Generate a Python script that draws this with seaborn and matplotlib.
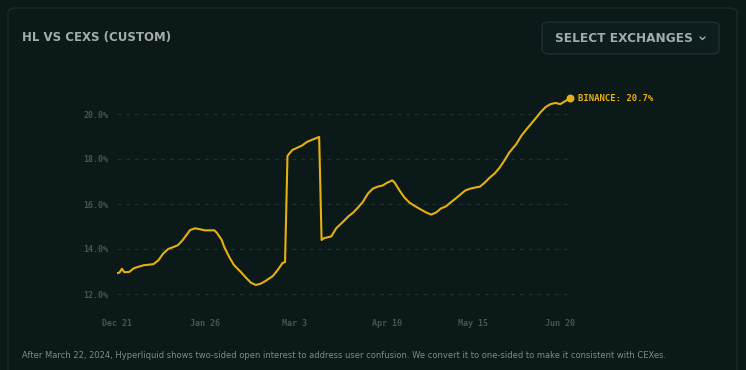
import numpy as np
import pandas as pd
import matplotlib
matplotlib.use("Agg")
import matplotlib.pyplot as plt
from matplotlib.patches import FancyBboxPatch
from matplotlib.lines import Line2D
import seaborn as sns

# Binance share of OI
dates = ["2023-12-21", "2023-12-22", "2023-12-23", "2023-12-24", "2023-12-26", "2023-12-28",
         "2024-01-01", "2024-01-03", "2024-01-05", "2024-01-07", "2024-01-09", "2024-01-11",
         "2024-01-13", "2024-01-15", "2024-01-17", "2024-01-20", "2024-01-22", "2024-01-24",
         "2024-01-26", "2024-01-28", "2024-01-30", "2024-01-31", "2024-02-02", "2024-02-03",
         "2024-02-05", "2024-02-07", "2024-02-10", "2024-02-12", "2024-02-14", "2024-02-16",
         "2024-02-18", "2024-02-20", "2024-02-23", "2024-02-25", "2024-02-27", "2024-02-28",
         "2024-02-29", "2024-03-02", "2024-03-04", "2024-03-06", "2024-03-08", "2024-03-10",
         "2024-03-13", "2024-03-14", "2024-03-15", "2024-03-18", "2024-03-20", "2024-03-23",
         "2024-03-25", "2024-03-27", "2024-03-29", "2024-03-31", "2024-04-02", "2024-04-04",
         "2024-04-06", "2024-04-08", "2024-04-10", "2024-04-12", "2024-04-13", "2024-04-15",
         "2024-04-17", "2024-04-19", "2024-04-21", "2024-04-23", "2024-04-26", "2024-04-28",
         "2024-04-30", "2024-05-02", "2024-05-04", "2024-05-06", "2024-05-08", "2024-05-10",
         "2024-05-12", "2024-05-14", "2024-05-16", "2024-05-18", "2024-05-20", "2024-05-22",
         "2024-05-24", "2024-05-26", "2024-05-28", "2024-05-30", "2024-06-02", "2024-06-04",
         "2024-06-06", "2024-06-08", "2024-06-10", "2024-06-12", "2024-06-14", "2024-06-16",
         "2024-06-18", "2024-06-20", "2024-06-22", "2024-06-24"]
binance = [12.93, 12.95, 13.12, 12.97, 12.98, 13.15,
           13.28, 13.30, 13.33, 13.50, 13.80, 14.00,
           14.08, 14.17, 14.40, 14.84, 14.92, 14.88,
           14.83, 14.83, 14.83, 14.72, 14.40, 14.10,
           13.66, 13.29, 12.96, 12.72, 12.50, 12.40,
           12.46, 12.58, 12.80, 13.07, 13.38, 13.42,
           18.14, 18.40, 18.50, 18.60, 18.76, 18.85,
           18.98, 14.40, 14.48, 14.56, 14.92, 15.23,
           15.45, 15.62, 15.85, 16.10, 16.46, 16.68,
           16.77, 16.82, 16.95, 17.05, 16.95, 16.60,
           16.29, 16.07, 15.93, 15.80, 15.62, 15.53,
           15.62, 15.80, 15.89, 16.07, 16.24, 16.42,
           16.60, 16.68, 16.73, 16.77, 16.95, 17.17,
           17.35, 17.60, 17.92, 18.28, 18.67, 19.03,
           19.30, 19.56, 19.82, 20.09, 20.31, 20.44,
           20.49, 20.44, 20.57, 20.70]
tick_dates = ["2023-12-21", "2024-01-26", "2024-03-03", "2024-04-10", "2024-05-15", "2024-06-20"]
tick_labels = ["Dec 21", "Jan 26", "Mar 3", "Apr 10", "May 15", "Jun 20"]
y_ticks = [12, 14, 16, 18, 20]

df = pd.DataFrame({"date": pd.to_datetime(dates), "share": binance})

BG = "#0b1919"
YELLOW = "#e6b00e"
MUTED = "#465454"
HEAD = "#a3abab"

sns.set_theme(style="dark")
plt.rcParams["font.family"] = ["DejaVu Sans"]

W, H = 746, 370
fig = plt.figure(figsize=(W / 100, H / 100), dpi=100, facecolor=BG)

# outer card, kept behind the axes
card = FancyBboxPatch((8 / W, -0.1), 729 / W, 1.1 - 8 / H,
                      boxstyle="round,pad=0,rounding_size=0.012",
                      transform=fig.transFigure, facecolor=BG,
                      edgecolor="#1c2a2a", linewidth=1.0, zorder=-2)
fig.patches.append(card)

# select button
btn = FancyBboxPatch((542 / W, 1 - 54 / H), 177 / W, 32 / H,
                     boxstyle="round,pad=0,rounding_size=0.012",
                     transform=fig.transFigure, facecolor="#0d1c1c",
                     edgecolor="#1f2e2e", linewidth=1.0, zorder=-1)
fig.patches.append(btn)

fig.text(22 / W, 1 - 38 / H, "HL VS CEXS (CUSTOM)", color=HEAD,
         fontsize=8.5, fontweight="bold", va="center", ha="left")
fig.text(555 / W, 1 - 38 / H, "SELECT EXCHANGES", color=HEAD,
         fontsize=8.7, fontweight="bold", va="center", ha="left")
# little chevron
fig.lines.append(Line2D([700 / W, 702.5 / W, 705 / W], [1 - 37 / H, 1 - 39.5 / H, 1 - 37 / H],
                        transform=fig.transFigure, color=HEAD, linewidth=1.0))
fig.text(22 / W, 1 - 355 / H,
         "After March 22, 2024, Hyperliquid shows two-sided open interest to address user confusion. "
         "We convert it to one-sided to make it consistent with CEXes.",
         color="#7f8a8a", fontsize=6.0, va="center", ha="left")

# plot area: 12% at y=294, 20% at y=114
ax_top, ax_bot = 90, 305
ax = fig.add_axes([117 / W, 1 - ax_bot / H, (570 - 117) / W, (ax_bot - ax_top) / H])
ax.set_facecolor("none")

sns.lineplot(data=df, x="date", y="share", ax=ax, color=YELLOW, linewidth=1.5)
ax.scatter(df["date"].iloc[-1], df["share"].iloc[-1], s=22, color=YELLOW, zorder=5, clip_on=False)
ax.annotate(f"BINANCE: {df['share'].iloc[-1]:.1f}%",
            (df["date"].iloc[-1], df["share"].iloc[-1]),
            xytext=(6, 0), textcoords="offset points", va="center", ha="left",
            color=YELLOW, fontsize=6.5, fontweight="bold", family="DejaVu Sans Mono",
            annotation_clip=False)

lo = 20 - (ax_bot - 114) / 22.5
hi = 20 + (114 - ax_top) / 22.5
ax.set_ylim(lo, hi)
ax.set_xlim(df["date"].iloc[0], df["date"].iloc[-1])

ax.set_yticks(y_ticks)
ax.set_yticklabels([f"{v:.1f}%" for v in y_ticks])
ax.set_xticks(pd.to_datetime(tick_dates))
ax.set_xticklabels(tick_labels)

for v in y_ticks:
    ax.axhline(v, color="#223030", linewidth=0.9, linestyle=(0, (3, 4)), zorder=0)
ax.grid(False)

ax.tick_params(axis="both", length=0, colors=MUTED, labelsize=6)
ax.tick_params(axis="y", pad=6)
ax.tick_params(axis="x", pad=10)
for lab in ax.get_xticklabels() + ax.get_yticklabels():
    lab.set_family("DejaVu Sans Mono")
    lab.set_fontweight("bold")
for s in ax.spines.values():
    s.set_visible(False)
ax.set_xlabel("")
ax.set_ylabel("")

fig.savefig("out.png", dpi=100, facecolor=BG)
